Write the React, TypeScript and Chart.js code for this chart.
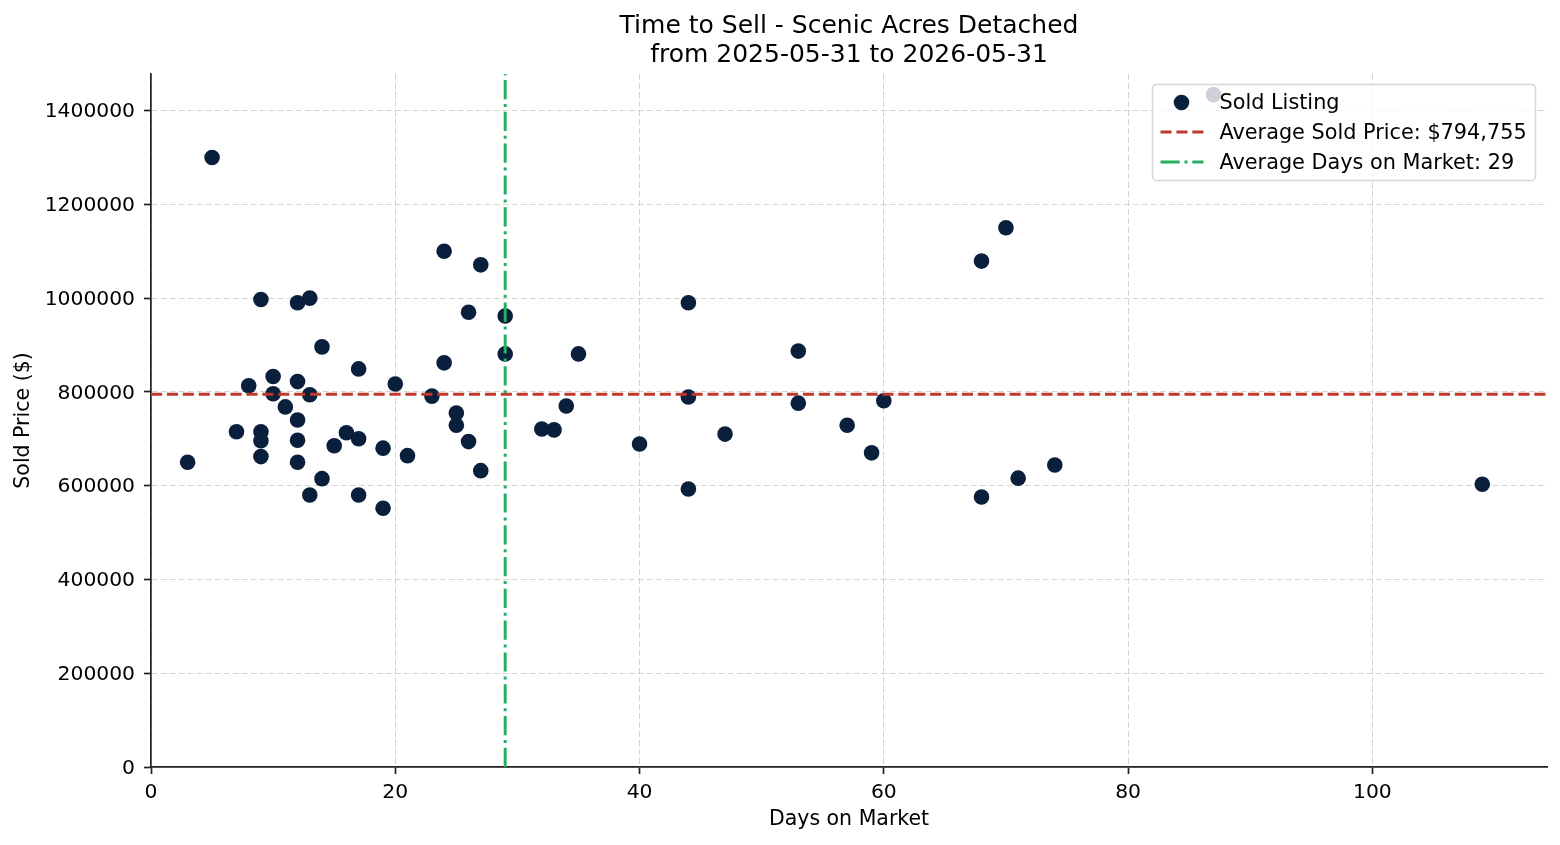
import React, { useEffect, useRef } from "react";
import { Chart, registerables } from "chart.js";

Chart.register(...registerables);

// Chart text
const titleLines = ["Time to Sell - Scenic Acres Detached", "from 2025-05-31 to 2026-05-31"];
const xAxisTitle = "Days on Market";
const yAxisTitle = "Sold Price ($)";

// Sold listings: days on market and sold price
const daysOnMarket = [
  3, 5, 7, 8, 9, 9, 9, 9, 10, 10, 11, 12, 12, 12, 12, 12, 13, 13, 13, 14, 14, 15, 16,
  17, 17, 17, 19, 19, 20, 21, 23, 24, 24, 25, 25, 26, 26, 27, 27, 29, 29, 32, 33, 34,
  35, 40, 44, 44, 44, 47, 53, 53, 57, 59, 60, 68, 68, 70, 71, 74, 87, 109,
];
const soldPrices = [
  650000, 1300000, 715000, 813000, 997000, 715000, 696000, 662000, 833000, 796000,
  768000, 990000, 822000, 740000, 697000, 650000, 1000000, 794000, 580000, 896000,
  615000, 685000, 713000, 849000, 700000, 580000, 680000, 552000, 817000, 664000,
  791000, 1100000, 862000, 755000, 729000, 970000, 694000, 1071000, 632000, 962000,
  881000, 721000, 719000, 770000, 881000, 689000, 990000, 789000, 593000, 710000,
  887000, 776000, 729000, 670000, 781000, 1079000, 576000, 1150000, 616000, 644000,
  1434000, 603000,
];

// Reference lines
const avgSoldPrice = 794755;
const avgDaysOnMarket = 29;

// Axis ranges and tick values
const xRange = [0, 114.3];
const yRange = [0, 1478000];
const xTickValues = [0, 20, 40, 60, 80, 100];
const yTickValues = [0, 200000, 400000, 600000, 800000, 1000000, 1200000, 1400000];

const seriesLabels = [
  "Sold Listing",
  `Average Sold Price: $${avgSoldPrice.toLocaleString("en-US")}`,
  `Average Days on Market: ${avgDaysOnMarket}`,
];

const FONT = "'DejaVu Sans', 'Noto Sans', sans-serif";
const POINT_COLOR = "#0a1f3c";
const RED = "#c0392b";
const GREEN = "#27ae60";
const RED_DASH = [11.1, 4.8];
const GREEN_DASH = [19.2, 4.8, 3, 4.8];

const titlePlugin = {
  id: "twoLineTitle",
  afterDraw(chart: any) {
    const { ctx, chartArea } = chart;
    const cx = (chartArea.left + chartArea.right) / 2;
    ctx.save();
    ctx.fillStyle = "#000";
    ctx.font = `25px ${FONT}`;
    ctx.textAlign = "center";
    ctx.textBaseline = "alphabetic";
    ctx.fillText(titleLines[0], cx, 33.3);
    ctx.fillText(titleLines[1], cx, 61.7);
    ctx.restore();
  },
};

const cornerLegendPlugin = {
  id: "cornerLegend",
  afterDatasetsDraw(chart: any) {
    const { ctx, chartArea } = chart;
    const boxW = 383;
    const boxH = 96;
    const x0 = chartArea.right - 11.5 - boxW;
    const y0 = chartArea.top + 10.5;
    ctx.save();
    ctx.beginPath();
    ctx.roundRect(x0, y0, boxW, boxH, 4);
    ctx.fillStyle = "rgba(255,255,255,0.8)";
    ctx.fill();
    ctx.lineWidth = 1.5;
    ctx.strokeStyle = "rgba(204,204,204,0.8)";
    ctx.stroke();

    const rowY = (i: number) => y0 + 17.5 + i * 30;
    const hx0 = x0 + 8;
    const hx1 = x0 + 51;

    // scatter marker
    ctx.beginPath();
    ctx.arc(x0 + 29, rowY(0) + 0.5, 7.8, 0, Math.PI * 2);
    ctx.fillStyle = POINT_COLOR;
    ctx.fill();

    // dashed lines
    ctx.lineWidth = 3;
    ctx.setLineDash(RED_DASH);
    ctx.strokeStyle = RED;
    ctx.beginPath();
    ctx.moveTo(hx0, rowY(1));
    ctx.lineTo(hx1, rowY(1));
    ctx.stroke();

    ctx.setLineDash(GREEN_DASH);
    ctx.strokeStyle = GREEN;
    ctx.beginPath();
    ctx.moveTo(hx0, rowY(2));
    ctx.lineTo(hx1, rowY(2));
    ctx.stroke();
    ctx.setLineDash([]);

    ctx.fillStyle = "#000";
    ctx.font = `20.8px ${FONT}`;
    ctx.textAlign = "left";
    ctx.textBaseline = "alphabetic";
    seriesLabels.forEach((t, i) => ctx.fillText(t, x0 + 67, rowY(i) + 7));
    ctx.restore();
  },
};

export default function App() {
  const canvasRef = useRef<HTMLCanvasElement | null>(null);

  useEffect(() => {
    if (!canvasRef.current) return;
    const points = daysOnMarket.map((d, i) => ({ x: d, y: soldPrices[i] }));

    const gridCommon = {
      color: "rgba(176,176,176,0.55)",
      lineWidth: 1,
      tickLength: 7,
      tickColor: "#222",
      tickWidth: 1.7,
      tickBorderDash: [],
    };
    const borderCommon = { display: true, color: "#222", width: 1.7, dash: [6, 3] };
    const tickFont = { family: FONT, size: 20.3 };
    const axisTitleFont = { family: FONT, size: 20.5 };

    const chart = new Chart(canvasRef.current, {
      type: "scatter",
      data: {
        datasets: [
          {
            label: seriesLabels[2],
            data: [
              { x: avgDaysOnMarket, y: yRange[0] },
              { x: avgDaysOnMarket, y: yRange[1] },
            ],
            showLine: true,
            borderColor: GREEN,
            borderWidth: 3,
            borderDash: GREEN_DASH,
            pointRadius: 0,
            order: 0,
          },
          {
            label: seriesLabels[1],
            data: [
              { x: xRange[0], y: avgSoldPrice },
              { x: xRange[1], y: avgSoldPrice },
            ],
            showLine: true,
            borderColor: RED,
            borderWidth: 3,
            borderDash: RED_DASH,
            pointRadius: 0,
            order: 1,
          },
          {
            label: seriesLabels[0],
            data: points,
            pointRadius: 7.8,
            pointHoverRadius: 7.8,
            pointBackgroundColor: POINT_COLOR,
            pointBorderWidth: 0,
            order: 2,
          },
        ],
      },
      options: {
        animation: false,
        responsive: true,
        maintainAspectRatio: false,
        devicePixelRatio: 1,
        events: [],
        layout: { padding: { top: 74, right: 13, bottom: 0, left: 0 } },
        plugins: {
          legend: { display: false },
          tooltip: { enabled: false },
          title: { display: false },
        },
        scales: {
          x: {
            type: "linear",
            min: xRange[0],
            max: xRange[1],
            afterBuildTicks: (scale: any) => {
              scale.ticks = xTickValues.map((v) => ({ value: v }));
            },
            afterFit: (scale: any) => {
              scale.height = 78;
            },
            ticks: {
              padding: 7,
              color: "#000",
              font: tickFont,
              callback: (v: any) => String(v),
            },
            grid: gridCommon,
            border: borderCommon,
            title: {
              display: true,
              text: xAxisTitle,
              color: "#000",
              font: axisTitleFont,
              padding: { top: 0, bottom: 13 },
            },
          },
          y: {
            type: "linear",
            min: yRange[0],
            max: yRange[1],
            afterBuildTicks: (scale: any) => {
              scale.ticks = yTickValues.map((v) => ({ value: v }));
            },
            afterFit: (scale: any) => {
              scale.width = 151;
            },
            ticks: {
              padding: 9,
              labelOffset: 1.5,
              color: "#000",
              font: tickFont,
              callback: (v: any) => String(v),
            },
            grid: gridCommon,
            border: borderCommon,
            title: {
              display: true,
              text: yAxisTitle,
              color: "#000",
              font: axisTitleFont,
              padding: { top: 11, bottom: 0 },
            },
          },
        },
      },
      plugins: [titlePlugin, cornerLegendPlugin],
    } as any);

    return () => chart.destroy();
  }, []);

  return (
    <div
      style={{
        position: "fixed",
        left: 0,
        top: 0,
        width: 1560,
        height: 845,
        background: "#fff",
      }}
    >
      <canvas ref={canvasRef} />
    </div>
  );
}
